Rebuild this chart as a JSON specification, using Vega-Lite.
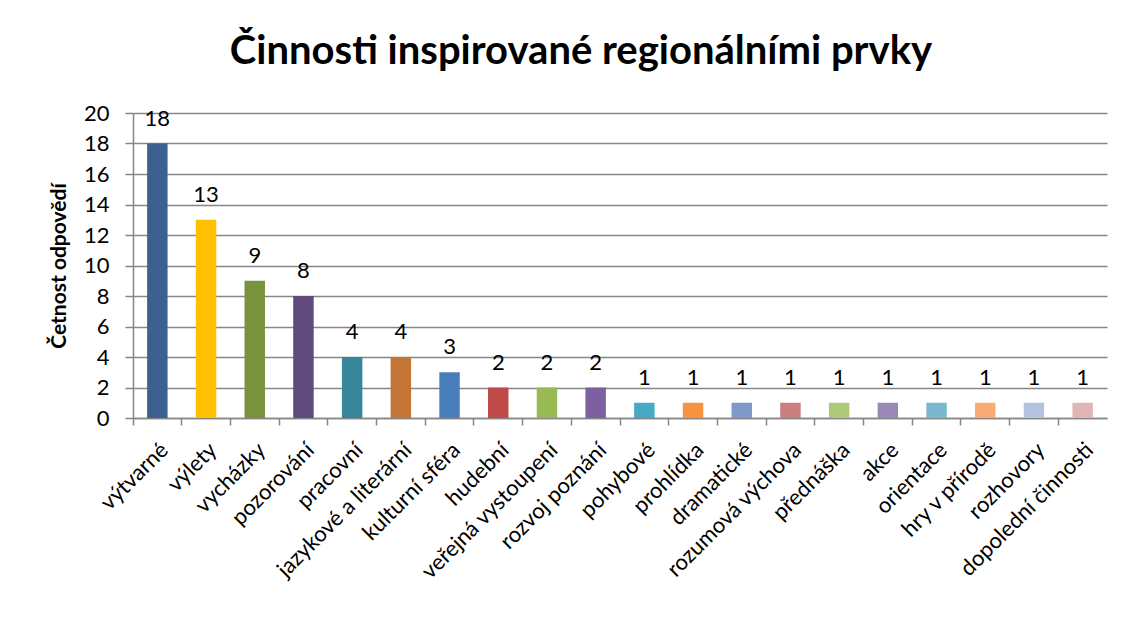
{
  "$schema": "https://vega.github.io/schema/vega-lite/v6.json",
  "width": 974,
  "height": 305,
  "autosize": "none",
  "padding": {"left": 133, "top": 113, "right": 33, "bottom": 201},
  "background": "white",
  "title": {
    "text": "Činnosti inspirované regionálními prvky",
    "font": "Lato",
    "fontSize": 40,
    "fontWeight": "bold",
    "color": "#000000",
    "anchor": "middle",
    "frame": "group",
    "dx": -39,
    "offset": 30
  },
  "data": {
    "values": [
      {"cinnost": "výtvarné", "pocet": 18, "barva": "#3C6191"},
      {"cinnost": "výlety", "pocet": 13, "barva": "#FFC000"},
      {"cinnost": "vycházky", "pocet": 9, "barva": "#77933C"},
      {"cinnost": "pozorování", "pocet": 8, "barva": "#604A7B"},
      {"cinnost": "pracovní", "pocet": 4, "barva": "#37869A"},
      {"cinnost": "jazykové a literární", "pocet": 4, "barva": "#C27535"},
      {"cinnost": "kulturní sféra", "pocet": 3, "barva": "#4A7EBB"},
      {"cinnost": "hudební", "pocet": 2, "barva": "#BE4B48"},
      {"cinnost": "veřejná vystoupení", "pocet": 2, "barva": "#98B954"},
      {"cinnost": "rozvoj poznání", "pocet": 2, "barva": "#7D60A0"},
      {"cinnost": "pohybové", "pocet": 1, "barva": "#46AAC5"},
      {"cinnost": "prohlídka", "pocet": 1, "barva": "#F69240"},
      {"cinnost": "dramatické", "pocet": 1, "barva": "#7E9BC8"},
      {"cinnost": "rozumová výchova", "pocet": 1, "barva": "#CB7E7C"},
      {"cinnost": "přednáška", "pocet": 1, "barva": "#AFC97A"},
      {"cinnost": "akce", "pocet": 1, "barva": "#9B87B5"},
      {"cinnost": "orientace", "pocet": 1, "barva": "#79B8CE"},
      {"cinnost": "hry v přírodě", "pocet": 1, "barva": "#F8AC74"},
      {"cinnost": "rozhovory", "pocet": 1, "barva": "#B3C3DF"},
      {"cinnost": "dopolední činnosti", "pocet": 1, "barva": "#DFB6B5"}
    ]
  },
  "config": {
    "view": {"stroke": null},
    "font": "Lato",
    "axis": {
      "labelFont": "Lato",
      "titleFont": "Lato",
      "labelColor": "#000000",
      "titleColor": "#000000",
      "domainColor": "#868686",
      "tickColor": "#868686",
      "gridColor": "#868686",
      "domainWidth": 1.5,
      "tickWidth": 1.5,
      "gridWidth": 1.5
    }
  },
  "encoding": {
    "x": {
      "field": "cinnost",
      "type": "nominal",
      "sort": null,
      "scale": {"paddingInner": 0.58, "paddingOuter": 0.29},
      "axis": {
        "title": null,
        "orient": "bottom",
        "bandPosition": -0.69,
        "labelOffset": 0,
        "labelAngle": -45,
        "labelAlign": "right",
        "labelBaseline": "top",
        "labelFontSize": 22,
        "labelPadding": 14,
        "labelOverlap": false,
        "labelLimit": 400,
        "ticks": true,
        "tickSize": 7,
        "domain": true
      }
    },
    "y": {
      "field": "pocet",
      "type": "quantitative",
      "scale": {"domain": [0, 20], "nice": false},
      "axis": {
        "title": "Četnost odpovědí",
        "titleFontSize": 21,
        "titleFontWeight": "bold",
        "titlePadding": 14,
        "values": [0, 2, 4, 6, 8, 10, 12, 14, 16, 18, 20],
        "labelOverlap": false,
        "labelFontSize": 22,
        "labelPadding": 16,
        "tickSize": 8,
        "grid": true,
        "domain": true
      }
    }
  },
  "layer": [
    {
      "mark": {"type": "bar"},
      "encoding": {
        "color": {"field": "barva", "type": "nominal", "scale": null, "legend": null}
      }
    },
    {
      "mark": {"type": "text", "fontSize": 22, "baseline": "alphabetic", "dy": -18, "color": "#000000", "font": "Lato"},
      "encoding": {
        "text": {"field": "pocet", "type": "quantitative"}
      }
    }
  ]
}
